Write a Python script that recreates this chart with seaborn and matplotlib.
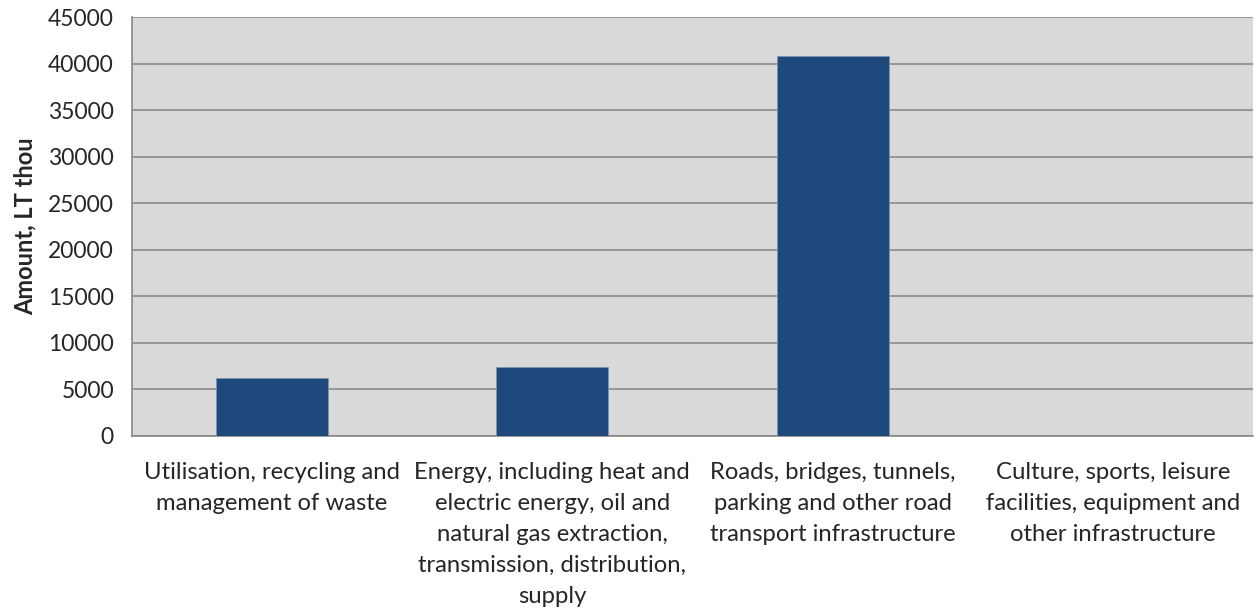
import pandas as pd
import matplotlib.pyplot as plt
import seaborn as sns
import numpy as np

categories = [
    "Utilisation, recycling and\nmanagement of waste",
    "Energy, including heat and\nelectric energy, oil and\nnatural gas extraction,\ntransmission, distribution,\nsupply",
    "Roads, bridges, tunnels,\nparking and other road\ntransport infrastructure",
    "Culture, sports, leisure\nfacilities, equipment and\nother infrastructure",
]
amounts = [6250, 7390, 40760, 0]
y_ticks = list(range(0, 45001, 5000))

sns.set_theme(style="white")
plt.rcParams['font.family'] = ['Lato', 'DejaVu Sans']

df = pd.DataFrame({'category': categories, 'amount': amounts})

fig = plt.figure(figsize=(12.58, 6.12), dpi=100)
ax = fig.add_axes([132 / 1258, 1 - 436 / 612, (1253 - 132) / 1258, (436 - 17) / 612])
ax.set_facecolor('#D9D9D9')

sns.barplot(data=df, x='category', y='amount', ax=ax, color='#1F497D',
            width=0.4, saturation=1, edgecolor='#7f93b0', linewidth=0.6, zorder=3)

ax.set_xlim(-0.5, 3.5)
ax.set_ylim(0, 45000)
ax.set_yticks(y_ticks)
ax.set_yticklabels([str(t) for t in y_ticks], fontsize=16.5)
ax.grid(axis='y', color='#8C8C8C', linewidth=1.2, zorder=1)
ax.set_axisbelow(True)

ax.set_xlabel('')
ax.set_ylabel('Amount, LT thou', fontsize=17, fontweight='bold', labelpad=8)
ax.tick_params(axis='x', which='major', length=0, pad=19, labelsize=17.2)
for lbl in ax.get_xticklabels():
    lbl.set_linespacing(1.58)
ax.set_xticks(np.arange(-0.5, 3.6, 1), minor=True)
ax.tick_params(axis='x', which='minor', length=6, color='#878787', width=1.2, direction='out')
ax.tick_params(axis='y', length=6, color='#878787', width=1.2, direction='out', pad=7)

for s in ['top', 'right']:
    ax.spines[s].set_visible(False)
for s in ['left', 'bottom']:
    ax.spines[s].set_color('#878787')
    ax.spines[s].set_linewidth(1.2)

plt.savefig('out.png', dpi=100)
